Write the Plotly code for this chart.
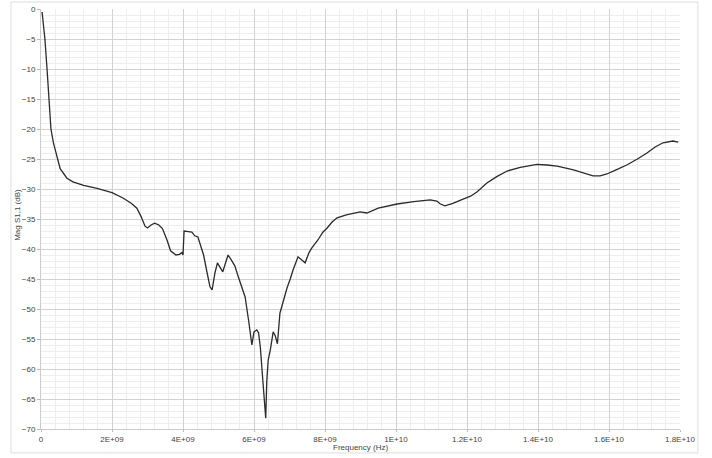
import plotly.graph_objects as go

# Frequency in GHz and magnitude in dB
freq_ghz = [0.03, 0.11, 0.17, 0.22, 0.28, 0.35, 0.42, 0.54, 0.73, 0.9, 1.2, 1.58, 2.0, 2.31,
            2.55, 2.7, 2.82, 2.93, 3.0, 3.1, 3.2, 3.32, 3.42, 3.55, 3.65, 3.8, 3.9, 3.97, 4.0,
            4.03, 4.15, 4.25, 4.33, 4.42, 4.5, 4.58, 4.68, 4.76, 4.82, 4.9, 4.97, 5.04, 5.12,
            5.2, 5.27, 5.36, 5.46, 5.55, 5.65, 5.75, 5.85, 5.94, 6.0, 6.08, 6.13, 6.18, 6.25,
            6.31, 6.33, 6.36, 6.4, 6.46, 6.54, 6.6, 6.66, 6.73, 6.83, 6.93, 7.02, 7.1, 7.24,
            7.34, 7.44, 7.55, 7.63, 7.8, 7.94, 8.06, 8.2, 8.34, 8.6, 8.99, 9.18, 9.5, 10.03,
            10.5, 10.96, 11.15, 11.25, 11.38, 11.6, 11.89, 12.1, 12.28, 12.56, 12.85, 13.13,
            13.5, 13.97, 14.25, 14.54, 15.0, 15.3, 15.55, 15.75, 15.94, 16.2, 16.5, 16.8,
            17.07, 17.3, 17.52, 17.8, 17.95]
mag_db = [-0.5, -5.0, -10.0, -15.0, -20.0, -22.3, -23.8, -26.6, -28.2, -28.8, -29.4, -29.9, -30.6, -31.5,
          -32.4, -33.2, -34.6, -36.2, -36.5, -36.0, -35.7, -36.0, -36.6, -38.5, -40.3, -41.0, -40.9, -40.6, -41.0,
          -37.0, -37.1, -37.2, -37.8, -38.0, -39.5, -41.0, -44.0, -46.3, -46.8, -44.0, -42.3, -43.0, -43.8,
          -42.3, -41.0, -41.8, -42.8, -44.5, -46.2, -48.0, -52.0, -56.0, -53.8, -53.5, -54.0, -56.5, -62.0,
          -67.0, -68.2, -62.0, -58.5, -56.8, -53.8, -54.5, -55.8, -50.7, -48.5, -46.5, -45.0, -43.5, -41.3,
          -41.8, -42.3, -40.6, -39.8, -38.5, -37.2, -36.5, -35.5, -34.8, -34.3, -33.8, -34.0, -33.2, -32.5,
          -32.1, -31.8, -32.0, -32.5, -32.8, -32.4, -31.7, -31.2, -30.5, -29.0, -27.9, -27.0,
          -26.4, -25.9, -26.0, -26.2, -26.8, -27.3, -27.8, -27.8, -27.5, -26.8, -26.0, -25.0,
          -24.0, -23.0, -22.3, -22.0, -22.2]

x_tick_vals = [0, 2e9, 4e9, 6e9, 8e9, 1e10, 1.2e10, 1.4e10, 1.6e10, 1.8e10]
x_tick_text = ["0", "2E+09", "4E+09", "6E+09", "8E+09", "1E+10", "1.2E+10", "1.4E+10", "1.6E+10", "1.8E+10"]
y_tick_vals = [0, -5, -10, -15, -20, -25, -30, -35, -40, -45, -50, -55, -60, -65, -70]
x_title = "Frequency (Hz)"
y_title = "Mag S1,1 (dB)"

freq_hz = [f * 1e9 for f in freq_ghz]

fig = go.Figure()
fig.add_trace(go.Scatter(x=freq_hz, y=mag_db, mode="lines",
                         line=dict(color="#2b2b2b", width=1.3), showlegend=False))

font = dict(family="Liberation Sans, Arial, sans-serif", size=8, color="#444444")

fig.update_layout(
    width=712, height=458,
    margin=dict(l=41, r=32, t=9, b=29, autoexpand=False),
    paper_bgcolor="white", plot_bgcolor="white",
    font=font,
    xaxis=dict(range=[0, 1.8e10], tickmode="array", tickvals=x_tick_vals, ticktext=x_tick_text,
               automargin=False,
               showgrid=True, gridcolor="#d2d2d2", gridwidth=1,
               minor=dict(dtick=4e8, showgrid=True, gridcolor="#eeeeee", gridwidth=1),
               zeroline=False, showline=True, linecolor="#cccccc",
               ticks="outside", ticklen=2, tickcolor="#bbbbbb"),
    yaxis=dict(range=[-70, 0], tickmode="array", tickvals=y_tick_vals,
               automargin=False,
               showgrid=True, gridcolor="#d2d2d2", gridwidth=1,
               minor=dict(dtick=1, showgrid=True, gridcolor="#eeeeee", gridwidth=1),
               zeroline=False, showline=True, linecolor="#cccccc",
               ticks="outside", ticklen=3, tickcolor="#bbbbbb"),
    annotations=[
        dict(text=x_title, xref="paper", yref="paper", x=0.5, y=-0.045,
             xanchor="center", yanchor="middle", showarrow=False, font=font),
        dict(text=y_title, xref="paper", yref="paper", x=-0.036, y=0.51, textangle=-90,
             xanchor="center", yanchor="middle", showarrow=False, font=font),
    ],
    shapes=[dict(type="rect", xref="paper", yref="paper",
                 x0=-0.047, x1=1.028, y0=-0.057, y1=1.0167,
                 line=dict(color="#dddddd", width=1), fillcolor="rgba(0,0,0,0)", layer="below")],
)

fig.write_html("out.html", config={"displayModeBar": False},
               post_script="document.body.style.margin='0';document.body.style.overflow='hidden';")
